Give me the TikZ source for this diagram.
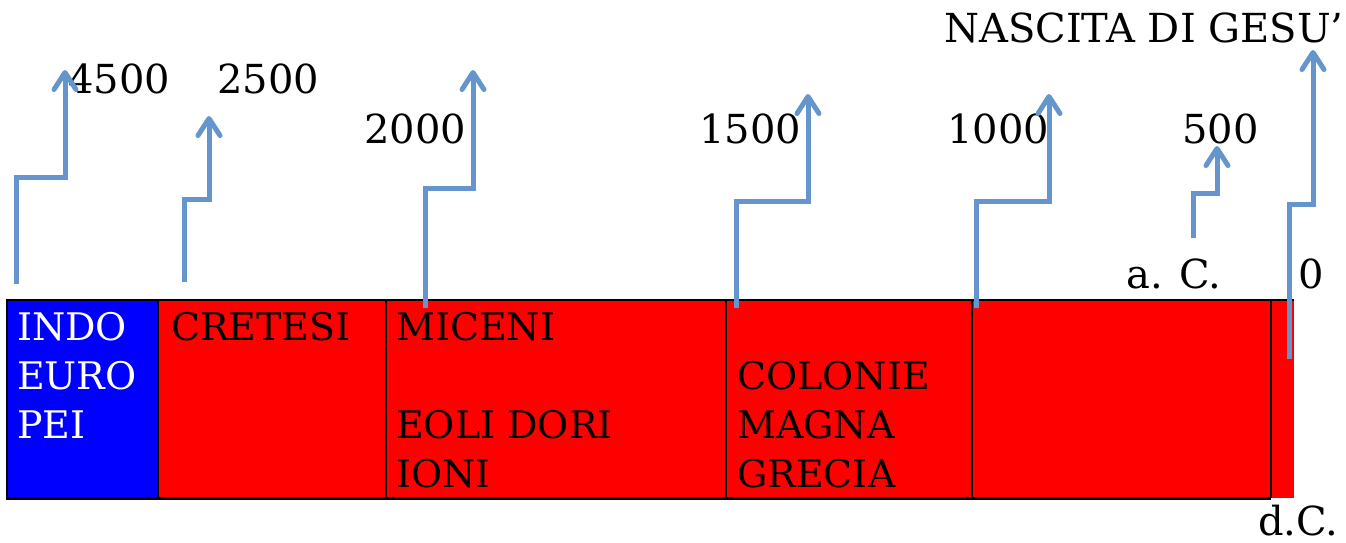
\documentclass[tikz,border=0pt]{standalone}
\usepackage{fontspec}
\setmainfont{DejaVu Serif}
\usetikzlibrary{arrows.meta}
\definecolor{timeblue}{RGB}{100,150,205}

\begin{document}
\begin{tikzpicture}[x=1pt,y=-1pt,
  cell/.style={anchor=north west,inner sep=0,minimum height=198pt},
  celltext/.style={anchor=north west,inner sep=0,align=left,font=\fontsize{38}{49}\selectfont},
  datelabel/.style={anchor=base west,inner sep=0,font=\fontsize{40}{48}\selectfont},
  timearrow/.style={timeblue,line width=5pt,-{Straight Barb[length=17pt,width=22pt,round]}}]
\useasboundingbox (0,0) rectangle (1346,543);
% periodi
\node [cell,fill=blue,minimum width=151pt] (indo) at (7,300) {};
\node [cell,fill=red,minimum width=228pt] (cretesi) at (158,300) {};
\node [cell,fill=red,minimum width=340pt] (miceni) at (386,300) {};
\node [cell,fill=red,minimum width=246pt] (colonie) at (726,300) {};
\node [cell,fill=red,minimum width=299pt] (vuota) at (972,300) {};
\node [cell,fill=red,minimum width=23pt] (dopo) at (1271,300) {};
\draw [line width=1.2pt] (cretesi.north west) -- (cretesi.south west);
\draw [line width=1.2pt] (miceni.north west) -- (miceni.south west);
\draw [line width=1.2pt] (colonie.north west) -- (colonie.south west);
\draw [line width=1.2pt] (vuota.north west) -- (vuota.south west);
\draw [line width=1.2pt] (dopo.north west) -- (dopo.south west);
\draw [line width=2.5pt] (dopo.north east) -- (indo.north west) -- (indo.south west) -- (dopo.south west);
\node [celltext,text=white] (indotxt) at (17,312) {INDO\\EURO\\PEI};
\node [celltext] (cretesitxt) at (171,312) {CRETESI};
\node [celltext] (micenitxt) at (396,312) {MICENI\\[49pt]EOLI DORI\\IONI};
\node [celltext] (colonietxt) at (737,361) {COLONIE\\MAGNA\\GRECIA};
% date
\node [datelabel] (y4500) at (68,93) {4500};
\node [datelabel] (y2500) at (217,93) {2500};
\node [datelabel] (y2000) at (364,143) {2000};
\node [datelabel] (y1500) at (699,143) {1500};
\node [datelabel] (y1000) at (947,143) {1000};
\node [datelabel] (y500) at (1182,143) {500};
\node [datelabel] (nascita) at (944,43) {NASCITA DI GESU'};
\node [datelabel] (ac) at (1126,288) {a. C.};
\node [datelabel] (zero) at (1298,288) {0};
\node [datelabel] (dc) at (1258,535) {d.C.};
% frecce
\coordinate (foot1) at (16,284);   \coordinate (tip1) at (65,70);
\coordinate (foot2) at (184,282);  \coordinate (tip2) at (209,116);
\coordinate (foot3) at (425,308);  \coordinate (tip3) at (473,70);
\coordinate (foot4) at (736,308);  \coordinate (tip4) at (808,94);
\coordinate (foot5) at (976,308);  \coordinate (tip5) at (1049,94);
\coordinate (foot6) at (1193,238); \coordinate (tip6) at (1217,146);
\coordinate (foot7) at (1289,359); \coordinate (tip7) at (1313,50);
\draw [timearrow] (foot1) -- ++(0,-107) -| (tip1);
\draw [timearrow] (foot2) -- ++(0,-83) -| (tip2);
\draw [timearrow] (foot3) -- ++(0,-120) -| (tip3);
\draw [timearrow] (foot4) -- ++(0,-107) -| (tip4);
\draw [timearrow] (foot5) -- ++(0,-107) -| (tip5);
\draw [timearrow] (foot6) -- ++(0,-45) -| (tip6);
\draw [timearrow] (foot7) -- ++(0,-155) -| (tip7);
\end{tikzpicture}
\end{document}
